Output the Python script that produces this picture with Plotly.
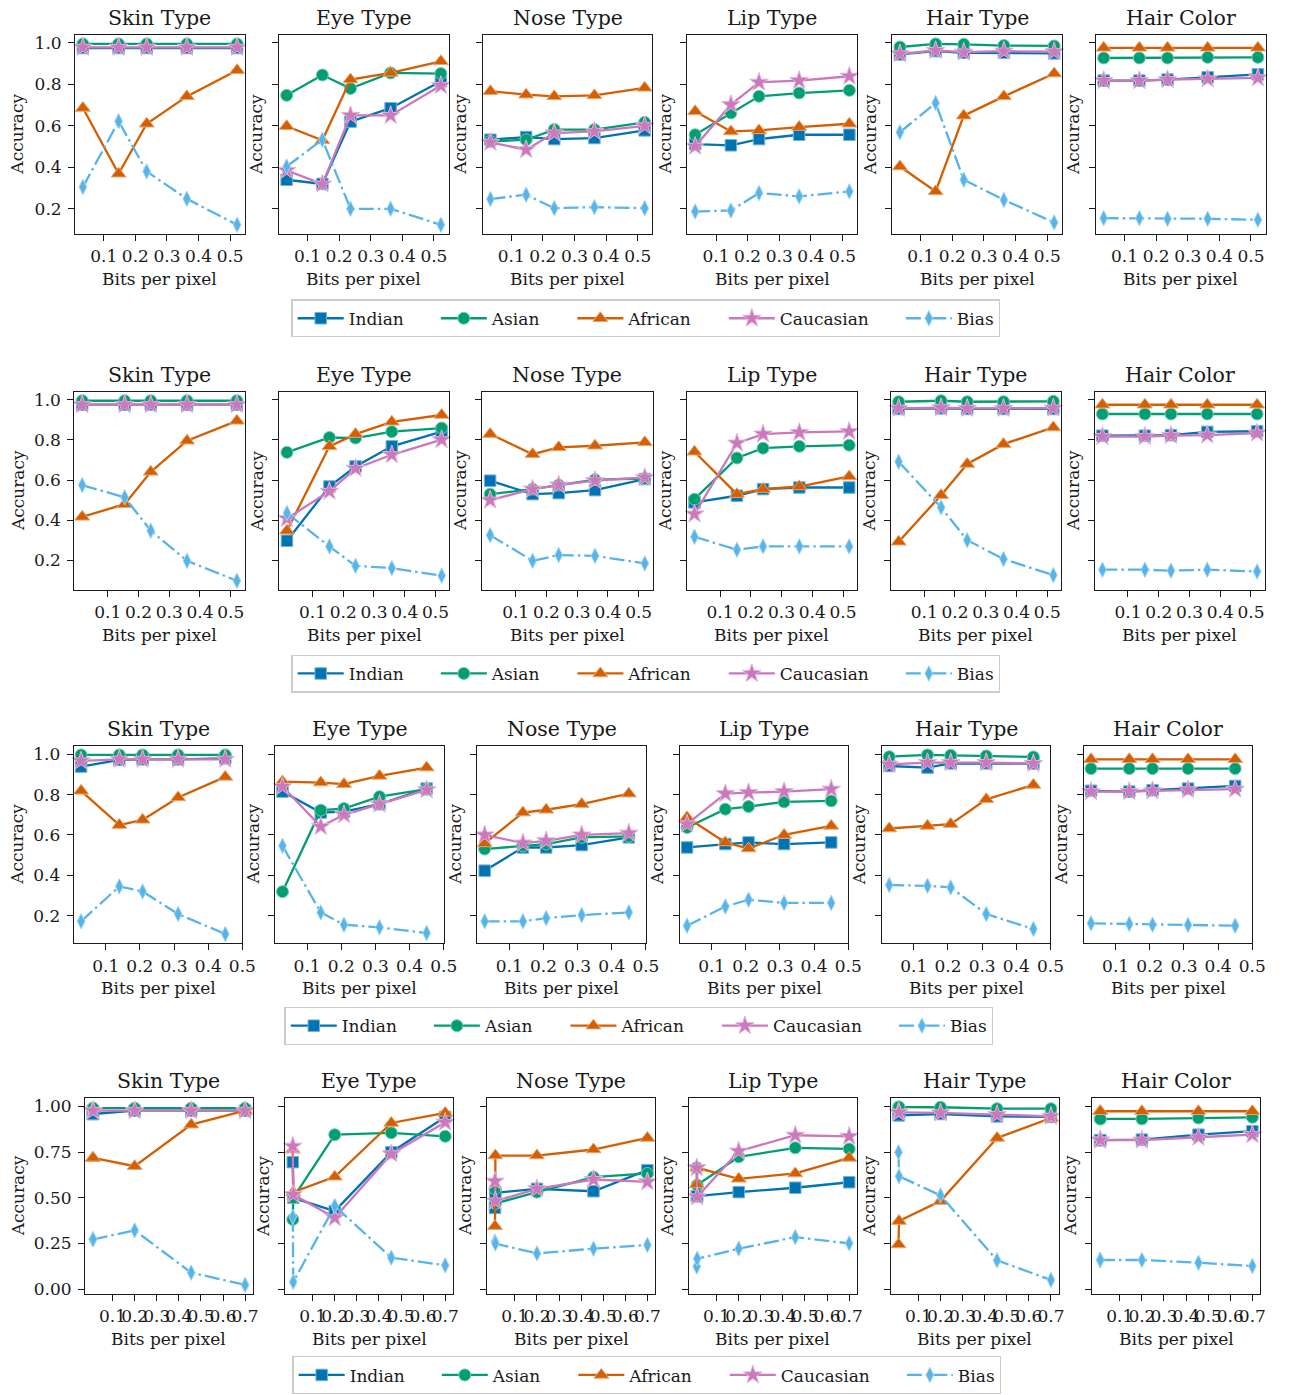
import plotly.graph_objects as go

W, H = 1290, 1395

ATTRIBUTES = ["Skin Type", "Eye Type", "Nose Type", "Lip Type", "Hair Type", "Hair Color"]
GROUPS = ["Indian", "Asian", "African", "Caucasian", "Bias"]

# ---- bits per pixel (x positions) for each row of panels ----
bpp_row1 = [0.034, 0.147, 0.236, 0.363, 0.522]
bpp_row2 = [0.017, 0.155, 0.240, 0.358, 0.520]
bpp_row3 = [0.028, 0.140, 0.208, 0.312, 0.450]
bpp_row4 = [0.010, 0.012, 0.200, 0.456, 0.700]

# ---- accuracy values: one list per attribute (Skin, Eye, Nose, Lip, Hair Type, Hair Color) ----
row1_indian = [[0.975, 0.975, 0.975, 0.975, 0.975], [0.340, 0.320, 0.620, 0.685, 0.815],
               [0.533, 0.546, 0.536, 0.541, 0.578], [0.512, 0.506, 0.536, 0.557, 0.557],
               [0.944, 0.960, 0.952, 0.952, 0.949], [0.818, 0.818, 0.823, 0.834, 0.848]]
row1_asian = [[0.995, 0.995, 0.995, 0.995, 0.995], [0.747, 0.845, 0.780, 0.855, 0.852],
              [0.525, 0.533, 0.582, 0.582, 0.617], [0.557, 0.662, 0.742, 0.758, 0.771],
              [0.980, 0.995, 0.993, 0.987, 0.985], [0.927, 0.927, 0.927, 0.930, 0.930]]
row1_african = [[0.686, 0.369, 0.610, 0.742, 0.868], [0.598, 0.530, 0.823, 0.855, 0.911],
                [0.767, 0.750, 0.742, 0.747, 0.783], [0.670, 0.573, 0.578, 0.594, 0.610],
                [0.404, 0.284, 0.649, 0.742, 0.852], [0.976, 0.976, 0.976, 0.976, 0.976]]
row1_caucasian = [[0.978, 0.978, 0.978, 0.978, 0.978], [0.385, 0.319, 0.650, 0.650, 0.794],
                  [0.520, 0.485, 0.565, 0.573, 0.600], [0.501, 0.702, 0.810, 0.818, 0.839],
                  [0.947, 0.963, 0.955, 0.960, 0.957], [0.818, 0.818, 0.823, 0.826, 0.831]]
row1_bias = [[0.305, 0.622, 0.380, 0.248, 0.123], [0.404, 0.533, 0.200, 0.200, 0.123],
             [0.247, 0.268, 0.203, 0.208, 0.203], [0.187, 0.192, 0.276, 0.260, 0.284],
             [0.569, 0.710, 0.340, 0.243, 0.134], [0.155, 0.155, 0.152, 0.152, 0.147]]

row2_indian = [[0.975, 0.975, 0.975, 0.975, 0.975], [0.298, 0.568, 0.668, 0.768, 0.841],
               [0.597, 0.530, 0.535, 0.550, 0.605], [0.489, 0.522, 0.555, 0.563, 0.563],
               [0.954, 0.957, 0.954, 0.954, 0.954], [0.821, 0.821, 0.824, 0.840, 0.843]]
row2_asian = [[0.995, 0.995, 0.995, 0.995, 0.995], [0.738, 0.812, 0.809, 0.841, 0.859],
              [0.530, 0.555, 0.575, 0.602, 0.608], [0.505, 0.710, 0.759, 0.768, 0.774],
              [0.990, 0.995, 0.990, 0.990, 0.992], [0.929, 0.929, 0.929, 0.929, 0.929]]
row2_african = [[0.417, 0.480, 0.641, 0.796, 0.895], [0.348, 0.768, 0.829, 0.890, 0.924],
                [0.829, 0.729, 0.763, 0.771, 0.788], [0.741, 0.530, 0.555, 0.568, 0.618],
                [0.293, 0.525, 0.680, 0.779, 0.862], [0.975, 0.975, 0.975, 0.975, 0.975]]
row2_caucasian = [[0.975, 0.975, 0.975, 0.975, 0.975], [0.409, 0.544, 0.658, 0.726, 0.801],
                  [0.500, 0.555, 0.575, 0.597, 0.613], [0.431, 0.784, 0.829, 0.837, 0.842],
                  [0.957, 0.960, 0.957, 0.957, 0.958], [0.817, 0.817, 0.822, 0.824, 0.834]]
row2_bias = [[0.575, 0.514, 0.348, 0.198, 0.099], [0.436, 0.270, 0.173, 0.162, 0.124],
             [0.326, 0.198, 0.227, 0.223, 0.185], [0.318, 0.253, 0.270, 0.270, 0.270],
             [0.691, 0.464, 0.301, 0.207, 0.127], [0.154, 0.154, 0.149, 0.154, 0.145]]

row3_indian = [[0.939, 0.972, 0.975, 0.975, 0.980], [0.815, 0.711, 0.716, 0.753, 0.830],
               [0.423, 0.538, 0.538, 0.550, 0.588], [0.538, 0.555, 0.563, 0.555, 0.563],
               [0.942, 0.934, 0.955, 0.955, 0.954], [0.819, 0.815, 0.822, 0.830, 0.843]]
row3_asian = [[0.997, 0.997, 0.997, 0.997, 0.997], [0.319, 0.723, 0.731, 0.790, 0.827],
              [0.530, 0.546, 0.555, 0.588, 0.593], [0.637, 0.728, 0.741, 0.764, 0.769],
              [0.988, 0.997, 0.995, 0.992, 0.987], [0.929, 0.929, 0.929, 0.929, 0.929]]
row3_african = [[0.819, 0.649, 0.675, 0.786, 0.888], [0.865, 0.860, 0.852, 0.893, 0.934],
                [0.558, 0.711, 0.725, 0.753, 0.805], [0.687, 0.563, 0.533, 0.600, 0.645],
                [0.632, 0.645, 0.654, 0.777, 0.848], [0.975, 0.975, 0.975, 0.975, 0.975]]
row3_caucasian = [[0.967, 0.975, 0.975, 0.975, 0.975], [0.840, 0.642, 0.700, 0.753, 0.824],
                  [0.600, 0.560, 0.571, 0.600, 0.609], [0.654, 0.805, 0.810, 0.815, 0.827],
                  [0.950, 0.959, 0.959, 0.959, 0.954], [0.815, 0.815, 0.819, 0.824, 0.827]]
row3_bias = [[0.172, 0.345, 0.320, 0.208, 0.109], [0.546, 0.216, 0.155, 0.142, 0.114],
             [0.172, 0.172, 0.188, 0.203, 0.216], [0.150, 0.245, 0.279, 0.263, 0.263],
             [0.352, 0.348, 0.340, 0.208, 0.134], [0.162, 0.159, 0.155, 0.154, 0.150]]

row4_indian = [[0.958, 0.958, 0.976, 0.976, 0.976], [0.695, 0.500, 0.427, 0.749, 0.942],
               [0.445, 0.527, 0.549, 0.536, 0.651], [0.509, 0.509, 0.531, 0.555, 0.585],
               [0.951, 0.951, 0.958, 0.945, 0.942], [0.815, 0.815, 0.818, 0.845, 0.864]]
row4_asian = [[0.990, 0.990, 0.990, 0.990, 0.990], [0.382, 0.500, 0.845, 0.855, 0.836],
              [0.549, 0.469, 0.531, 0.613, 0.633], [0.664, 0.570, 0.724, 0.773, 0.767],
              [0.996, 0.996, 0.995, 0.987, 0.987], [0.931, 0.931, 0.931, 0.936, 0.940]]
row4_african = [[0.718, 0.718, 0.673, 0.900, 0.976], [0.764, 0.531, 0.615, 0.909, 0.964],
                [0.345, 0.731, 0.731, 0.764, 0.827], [0.573, 0.664, 0.604, 0.633, 0.718],
                [0.245, 0.373, 0.482, 0.827, 0.936], [0.973, 0.973, 0.973, 0.973, 0.973]]
row4_caucasian = [[0.976, 0.976, 0.976, 0.976, 0.976], [0.782, 0.518, 0.391, 0.740, 0.913],
                  [0.591, 0.482, 0.549, 0.600, 0.587], [0.664, 0.505, 0.755, 0.842, 0.836],
                  [0.967, 0.967, 0.964, 0.955, 0.945], [0.815, 0.815, 0.815, 0.831, 0.845]]
row4_bias = [[0.273, 0.273, 0.322, 0.091, 0.024], [0.396, 0.040, 0.455, 0.173, 0.131],
             [0.260, 0.250, 0.196, 0.222, 0.242], [0.124, 0.167, 0.222, 0.285, 0.251],
             [0.749, 0.618, 0.513, 0.158, 0.051], [0.160, 0.160, 0.160, 0.145, 0.127]]

# ---- tick marks ----
xticks_short = [0.1, 0.2, 0.3, 0.4, 0.5]
xticks_long = [0.1, 0.2, 0.3, 0.4, 0.5, 0.6, 0.7]
yticks_tenths = [0.2, 0.4, 0.6, 0.8, 1.0]
yticks_quarters = [0.0, 0.25, 0.5, 0.75, 1.0]

ROWS = [
    dict(bpp=bpp_row1, series=[row1_indian, row1_asian, row1_african, row1_caucasian, row1_bias],
         xticks=xticks_short, yticks=yticks_tenths, yfmt="{:.1f}", clip_to_ticks=False),
    dict(bpp=bpp_row2, series=[row2_indian, row2_asian, row2_african, row2_caucasian, row2_bias],
         xticks=xticks_short, yticks=yticks_tenths, yfmt="{:.1f}", clip_to_ticks=False),
    dict(bpp=bpp_row3, series=[row3_indian, row3_asian, row3_african, row3_caucasian, row3_bias],
         xticks=xticks_short, yticks=yticks_tenths, yfmt="{:.1f}", clip_to_ticks=True),
    dict(bpp=bpp_row4, series=[row4_indian, row4_asian, row4_african, row4_caucasian, row4_bias],
         xticks=xticks_long, yticks=yticks_quarters, yfmt="{:.2f}", clip_to_ticks=False),
]

# ---- styling ----
COLORS = ["#0173b2", "#029e73", "#d55e00", "#cc78bc", "#56b4e9"]
SYMBOLS = ["square", "circle", "triangle-up", "star", "diamond-tall"]
MSIZES = [11.5, 12, 13, 14, 11]
DASHES = ["solid", "solid", "solid", "solid", "15px,4px,2.5px,4px"]
FONT = "DejaVu Serif"
FS = 17
TITLE_FS = 20.5
INK = "#1a1a1a"

# ---- panel geometry (pixels) ----
ROW_TOP = [33, 391.7, 747.7, 1101.7]
ROW_BOTTOM = [233, 590.7, 945.7, 1298.3]
COL_LEFT = [
    [76, 282, 488, 695, 902, 1108],
    [75.3, 282.3, 487.7, 694.3, 900.7, 1106.7],
    [74.7, 278.3, 482.7, 687.3, 891.7, 1095.7],
    [86, 288.3, 492.7, 696.7, 900.7, 1104.3],
]
PANEL_W = [171.5, 172, 170.3, 169.5]
YLAB_FIRST = [58.5, 57.8, 57.2, 67.5]
YLAB_OTHER = 22.5
LEGEND_CX = [653, 653, 646, 654]
LEGEND_CY = [318, 675, 1029, 1380]


def lighten(hex_color, amount):
    r, g, b = (int(hex_color[i:i + 2], 16) for i in (1, 3, 5))
    r, g, b = (int(v + (255 - v) * amount) for v in (r, g, b))
    return f"rgb({r},{g},{b})"


def padded(lo, hi, frac=0.05):
    span = hi - lo
    return [lo - frac * span, hi + frac * span]


fig = go.Figure()
layout = {}
annotations = []
NBSP = "\u00a0"

for r, row in enumerate(ROWS):
    x = row["bpp"]
    all_y = [v for s in row["series"] for panel in s for v in panel]
    yr = padded(min(all_y), max(all_y))
    xr = padded(min(x), max(x))
    if row["clip_to_ticks"]:
        xr[1] = max(xr[1], max(row["xticks"]))
    legend_id = "legend" if r == 0 else f"legend{r + 1}"
    top, bot = ROW_TOP[r], ROW_BOTTOM[r]

    for c, attr in enumerate(ATTRIBUTES):
        idx = r * 6 + c + 1
        sfx = "" if idx == 1 else str(idx)
        left = COL_LEFT[r][c]
        right = left + PANEL_W[r]

        for g, name in enumerate(GROUPS):
            label = name if g == len(GROUPS) - 1 else name + NBSP * 5
            fig.add_trace(go.Scatter(
                x=x, y=row["series"][g][c], mode="lines+markers", name=label,
                xaxis="x" + sfx, yaxis="y" + sfx, legend=legend_id,
                showlegend=(c == 0), cliponaxis=False,
                line=dict(color=COLORS[g], width=2.3, dash=DASHES[g]),
                marker=dict(symbol=SYMBOLS[g], size=MSIZES[g], color=COLORS[g],
                            line=dict(color=lighten(COLORS[g], 0.45), width=1)),
            ))

        common = dict(showline=True, mirror=True, linecolor=INK, linewidth=1.3,
                      ticks="outside", ticklen=6, tickwidth=1.3, tickcolor=INK,
                      showgrid=False, zeroline=False,
                      tickfont=dict(family=FONT, size=FS, color=INK))
        layout["xaxis" + sfx] = dict(
            common, domain=[left / W, right / W], anchor="y" + sfx, range=xr,
            tickvals=row["xticks"], ticktext=[f"{t:.1f}" for t in row["xticks"]],
            tickangle=0, ticklabelstandoff=1)
        layout["yaxis" + sfx] = dict(
            common, domain=[1 - bot / H, 1 - top / H], anchor="x" + sfx, range=yr,
            tickvals=row["yticks"], ticktext=[row["yfmt"].format(t) for t in row["yticks"]],
            showticklabels=(c == 0), ticklabelstandoff=3)

        cx = (left + right) / 2 / W
        annotations.append(dict(text=attr, x=cx, y=1 - top / H, xref="paper", yref="paper",
                                xanchor="center", yanchor="bottom", yshift=3, showarrow=False,
                                font=dict(family=FONT, size=TITLE_FS, color=INK)))
        annotations.append(dict(text="Bits per pixel", x=cx, y=1 - (bot + 45) / H,
                                xref="paper", yref="paper", xanchor="center", yanchor="middle",
                                showarrow=False, font=dict(family=FONT, size=FS, color=INK)))
        off = YLAB_FIRST[r] if c == 0 else YLAB_OTHER
        annotations.append(dict(text="Accuracy", x=(left - off) / W, y=1 - (top + bot) / 2 / H,
                                xref="paper", yref="paper", xanchor="center", yanchor="middle",
                                textangle=-90, showarrow=False,
                                font=dict(family=FONT, size=FS, color=INK)))

    layout[legend_id] = dict(
        orientation="h", x=LEGEND_CX[r] / W, y=1 - LEGEND_CY[r] / H,
        xanchor="center", yanchor="middle", itemwidth=46,
        bgcolor="rgba(255,255,255,0.8)", bordercolor="#cccccc", borderwidth=1.3,
        font=dict(family=FONT, size=FS, color=INK), tracegroupgap=0)

fig.update_layout(
    width=W, height=H, margin=dict(l=0, r=0, t=0, b=0),
    paper_bgcolor="white", plot_bgcolor="white",
    annotations=annotations, **layout)

fig.write_html("out.html")
